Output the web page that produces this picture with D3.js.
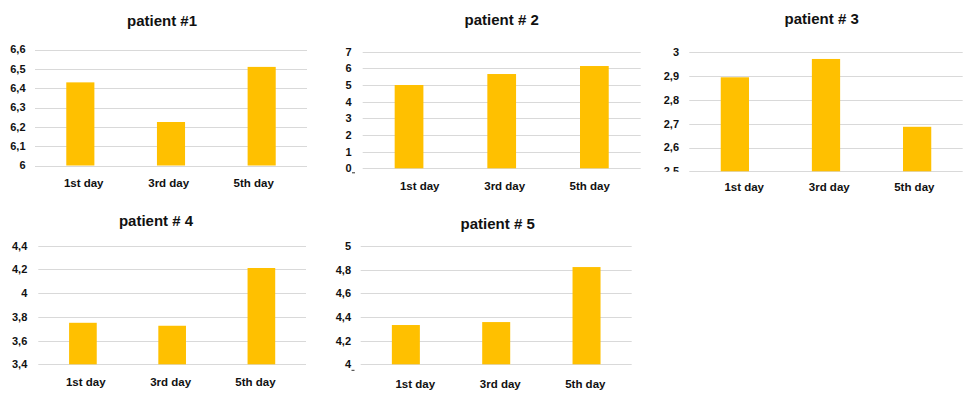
<!DOCTYPE html>
<html>
<head>
<meta charset="utf-8">
<script src="https://cdn.jsdelivr.net/npm/d3@7"></script>
<style>
  html, body { margin: 0; padding: 0; background: #fff; }
  svg { display: block; }
  text { font-family: "Liberation Sans", Arial, sans-serif; font-weight: bold; fill: #111; }
</style>
</head>
<body>
<svg id="chart" width="977" height="396"></svg>
<script>
// ---- data ----
const categories = ["1st day", "3rd day", "5th day"];
const titles = ["patient #1", "patient # 2", "patient # 3", "patient # 4", "patient # 5"];

const patient1 = [6.43, 6.225, 6.51];
const patient2 = [5.0, 5.66, 6.14];
const patient3 = [2.895, 2.972, 2.687];
const patient4 = [3.75, 3.725, 4.212];
const patient5 = [4.332, 4.357, 4.822];

const ticks1 = [6, 6.1, 6.2, 6.3, 6.4, 6.5, 6.6];
const ticks2 = [0, 1, 2, 3, 4, 5, 6, 7];
const ticks3 = [2.5, 2.6, 2.7, 2.8, 2.9, 3];
const ticks4 = [3.4, 3.6, 3.8, 4, 4.2, 4.4];
const ticks5 = [4, 4.2, 4.4, 4.6, 4.8, 5];

const seriesValues = [patient1, patient2, patient3, patient4, patient5];
const tickValues = [ticks1, ticks2, ticks3, ticks4, ticks5];

// ---- layout (positions only) ----
const layout = [
  { gx0: 35,    gx1: 307,   gyT: 49.5,  gyB: 165.5, lx0: 83.7,  lx1: 253.7, tx: 25.5,  titleX: 162,   titleY: 26,  labY: 187, clipY: null, dashDy: null },
  { gx0: 362.7, gx1: 640.7, gyT: 51.7,  gyB: 168.3, lx0: 419.7, lx1: 589.7, tx: 351.5, titleX: 501.7, titleY: 24.5, labY: 190, clipY: null, dashDy: 4.5 },
  { gx0: 689.3, gx1: 962.7, gyT: 52.3,  gyB: 171.3, lx0: 744.2, lx1: 914.3, tx: 679,   titleX: 821.7, titleY: 23.5, labY: 191, clipY: 171.8, dashDy: null },
  { gx0: 38.3,  gx1: 306,   gyT: 245.7, gyB: 364.3, lx0: 85.8,  lx1: 255.5, tx: 27.3,  titleX: 156,   titleY: 226, labY: 386, clipY: null, dashDy: null },
  { gx0: 360.7, gx1: 631.7, gyT: 246,   gyB: 364.3, lx0: 415.3, lx1: 585.3, tx: 351,   titleX: 497.7, titleY: 229, labY: 388, clipY: null, dashDy: 6 }
];

const barColor = "#FFC000";
const gridColor = "#d9d9d9";
const fmt = d => String(+d.toFixed(2)).replace(".", ",");

const svg = d3.select("#chart");
svg.append("rect").attr("width", 977).attr("height", 396).attr("fill", "#fff");
const defs = svg.append("defs");

seriesValues.forEach((vals, i) => {
  const L = layout[i];
  const ticks = tickValues[i];
  const g = svg.append("g");

  const y = d3.scaleLinear()
    .domain([d3.min(ticks), d3.max(ticks)])
    .range([L.gyB, L.gyT]);

  const x = d3.scaleBand()
    .domain(categories)
    .range([L.gx0, L.gx1])
    .paddingInner(0.69)
    .paddingOuter(0.345);

  const xl = d3.scalePoint()
    .domain(categories)
    .range([L.lx0, L.lx1]);

  // gridlines
  g.selectAll("line.grid").data(ticks).join("line")
    .attr("class", "grid")
    .attr("x1", L.gx0).attr("x2", L.gx1)
    .attr("y1", d => Math.round(y(d)) + 0.5)
    .attr("y2", d => Math.round(y(d)) + 0.5)
    .attr("stroke", gridColor).attr("stroke-width", 1);

  // tick labels
  const tg = g.append("g");
  if (L.clipY !== null) {
    const cid = "clip" + i;
    defs.append("clipPath").attr("id", cid)
      .append("rect").attr("x", 0).attr("y", 0).attr("width", 977).attr("height", L.clipY);
    tg.attr("clip-path", `url(#${cid})`);
  }
  tg.selectAll("text").data(ticks).join("text")
    .attr("x", L.tx)
    .attr("y", d => y(d))
    .attr("dy", "0.36em")
    .attr("text-anchor", "end")
    .style("font-size", "11px")
    .text(fmt);

  // small dash artifact after the lowest tick label
  if (L.dashDy !== null) {
    const y0 = y(y.domain()[0]);
    g.append("line")
      .attr("x1", L.tx + 0.5).attr("x2", L.tx + 3.5)
      .attr("y1", y0 + L.dashDy).attr("y2", y0 + L.dashDy)
      .attr("stroke", "#333").attr("stroke-width", 1);
  }

  // bars
  g.selectAll("rect.bar").data(vals).join("rect")
    .attr("class", "bar")
    .attr("x", (d, j) => x(categories[j]))
    .attr("width", x.bandwidth())
    .attr("y", d => y(d))
    .attr("height", d => y(y.domain()[0]) - y(d))
    .attr("fill", barColor);

  // category labels
  g.selectAll("text.cat").data(categories).join("text")
    .attr("class", "cat")
    .attr("x", d => xl(d))
    .attr("y", L.labY)
    .attr("text-anchor", "middle")
    .style("font-size", "11.5px")
    .text(d => d);

  // title
  g.append("text")
    .attr("x", L.titleX)
    .attr("y", L.titleY)
    .attr("text-anchor", "middle")
    .style("font-size", "15px")
    .text(titles[i]);
});
</script>
</body>
</html>
